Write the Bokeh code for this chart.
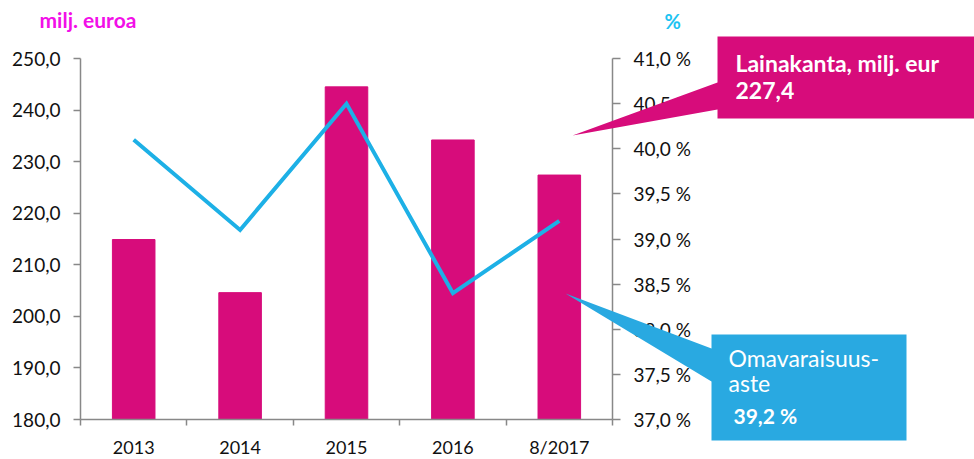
from bokeh.plotting import figure
from bokeh.models import Range1d, LinearAxis, FixedTicker, PolyAnnotation, Label
from bokeh.embed import file_html
from bokeh.resources import INLINE

# ---- data ----
categories = ["2013", "2014", "2015", "2016", "8/2017"]
lainakanta = [214.9, 204.6, 244.5, 234.2, 227.4]          # milj. euroa
omavaraisuus = [40.1, 39.1, 40.5, 38.4, 39.2]             # %
left_ticks = [180, 190, 200, 210, 220, 230, 240, 250]
right_ticks = [37.0, 37.5, 38.0, 38.5, 39.0, 39.5, 40.0, 40.5, 41.0]

FONT = "Lato"
BAR = "#D70C7B"
LINE = "#1DB0E6"
BOX_BLUE = "#29A9E1"
AXIS = "#888888"

W, H = 974, 459
FL, FR, FT, FB = 80, 612, 58, 419          # plot area in pixels
n = len(categories)
xs = list(range(1, n + 1))
y0, y1 = left_ticks[0], left_ticks[-1]
r0, r1 = right_ticks[0], right_ticks[-1]
TXT_SHIFT = 8   # compensation for label baseline placement

def dx(px):
    return 0.5 + (px - FL) / (FR - FL) * n

def dy(py):
    return y1 - (py - FT) / (FB - FT) * (y1 - y0)

def dr(py):
    return r1 - (py - FT) / (FB - FT) * (r1 - r0)

def ty(py):
    return dy(py - TXT_SHIFT)

p = figure(width=W, height=H, output_backend="svg", toolbar_location=None,
           x_range=Range1d(dx(0), dx(W)), y_range=Range1d(dy(H), dy(0)),
           min_border=0, x_axis_type=None, y_axis_type=None)
p.outline_line_color = None
p.grid.visible = False
p.background_fill_color = "white"
p.border_fill_color = "white"
p.extra_y_ranges = {"pct": Range1d(dr(H), dr(0))}

p.vbar(x=xs, top=lainakanta, bottom=y0, width=0.4, color=BAR)
p.line(x=xs, y=omavaraisuus, y_range_name="pct", line_color=LINE, line_width=4,
       line_join="miter")

# x axis
xa = LinearAxis(fixed_location=y0, bounds=(0.5, n + 0.5))
xa.ticker = FixedTicker(ticks=xs, minor_ticks=[x - 0.5 for x in xs] + [n + 0.5])
xa.major_label_overrides = {x: c for x, c in zip(xs, categories)}
xa.major_tick_out = 0
xa.major_tick_in = 0
xa.minor_tick_out = 6
xa.minor_tick_in = 0
xa.minor_tick_line_color = AXIS
xa.minor_tick_line_width = 1.5
xa.axis_line_color = AXIS
xa.axis_line_width = 1.5
xa.major_label_text_font = FONT
xa.major_label_text_font_size = "18px"
xa.major_label_text_color = "#111111"
xa.major_label_standoff = 10
p.add_layout(xa, "below")

# left axis
ya = LinearAxis(fixed_location=0.5, bounds=(y0, y1), ticker=FixedTicker(ticks=left_ticks))
ya.major_label_overrides = {t: f"{t:.1f}".replace(".", ",") for t in left_ticks}
ya.major_tick_out = 7
ya.major_tick_in = 0
ya.minor_tick_line_color = None
ya.axis_line_color = AXIS
ya.axis_line_width = 1.5
ya.major_tick_line_color = AXIS
ya.major_tick_line_width = 1.5
ya.major_label_text_font = FONT
ya.major_label_text_font_size = "19px"
ya.major_label_text_color = "#111111"
ya.major_label_standoff = 13
p.add_layout(ya, "left")

# right axis
ra = LinearAxis(y_range_name="pct", fixed_location=n + 0.5, bounds=(r0, r1),
                ticker=FixedTicker(ticks=right_ticks))
ra.major_label_overrides = {t: f"{t:.1f}".replace(".", ",") + " %" for t in right_ticks}
ra.major_tick_out = 8
ra.major_tick_in = 0
ra.minor_tick_line_color = None
ra.axis_line_color = AXIS
ra.axis_line_width = 1.5
ra.major_tick_line_color = AXIS
ra.major_tick_line_width = 1.5
ra.major_label_text_font = FONT
ra.major_label_text_font_size = "19px"
ra.major_label_text_color = "#111111"
ra.major_label_standoff = 13
p.add_layout(ra, "right")

# axis titles
p.add_layout(Label(x=dx(39), y=ty(27), text="milj. euroa", text_font=FONT,
                   text_font_size="21px", text_font_style="bold",
                   text_color="#F20FE8", text_baseline="alphabetic"))
p.add_layout(Label(x=dx(664), y=ty(28), text="%", text_font=FONT,
                   text_font_size="20px", text_font_style="bold",
                   text_color="#1CC3F2", text_baseline="alphabetic"))

# callout: Lainakanta
mag_pts = [(717, 36), (990, 36), (990, 118), (717, 118), (717, 109), (572, 135), (717, 82)]
p.add_layout(PolyAnnotation(xs=[dx(a) for a, b in mag_pts], ys=[dy(b) for a, b in mag_pts],
                            fill_color=BAR, fill_alpha=1.0, line_color=None))
p.add_layout(Label(x=dx(735), y=ty(70), text="Lainakanta, milj. eur", text_font=FONT,
                   text_font_size="23px", text_font_style="bold", text_color="white",
                   text_baseline="alphabetic"))
p.add_layout(Label(x=dx(735), y=ty(98), text=f"{lainakanta[-1]:.1f}".replace(".", ","),
                   text_font=FONT, text_font_size="23px", text_font_style="bold",
                   text_color="white", text_baseline="alphabetic"))

# callout: Omavaraisuusaste
blue_pts = [(711, 334), (906, 334), (906, 440), (711, 440), (711, 381), (565, 293), (711, 348)]
p.add_layout(PolyAnnotation(xs=[dx(a) for a, b in blue_pts], ys=[dy(b) for a, b in blue_pts],
                            fill_color=BOX_BLUE, fill_alpha=1.0, line_color=None))
p.add_layout(Label(x=dx(728), y=ty(365), text="Omavaraisuus-", text_font=FONT,
                   text_font_size="23px", text_color="white", text_baseline="alphabetic"))
p.add_layout(Label(x=dx(728), y=ty(390), text="aste", text_font=FONT,
                   text_font_size="23px", text_color="white", text_baseline="alphabetic"))
p.add_layout(Label(x=dx(733), y=ty(423),
                   text=f"{omavaraisuus[-1]:.1f}".replace(".", ",") + " %",
                   text_font=FONT, text_font_size="21px", text_font_style="bold",
                   text_color="white", text_baseline="alphabetic"))

open("out.html", "w").write(file_html(p, INLINE))
